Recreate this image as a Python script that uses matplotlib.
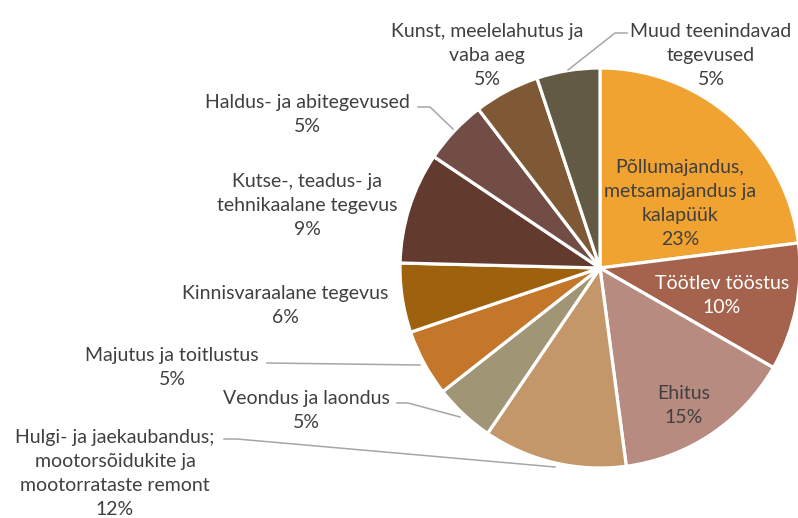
import matplotlib
matplotlib.use("Agg")
import matplotlib.pyplot as plt

# sectors, clockwise from 12 o'clock
sectors = [
    "Põllumajandus,\nmetsamajandus ja\nkalapüük",
    "Töötlev tööstus",
    "Ehitus",
    "Hulgi- ja jaekaubandus;\nmootorsõidukite ja\nmootorrataste remont",
    "Veondus ja laondus",
    "Majutus ja toitlustus",
    "Kinnisvaraalane tegevus",
    "Kutse-, teadus- ja\ntehnikaalane tegevus",
    "Haldus- ja abitegevused",
    "Kunst, meelelahutus ja\nvaba aeg",
    "Muud teenindavad\ntegevused",
]
shares = [23.0, 10.3, 14.6, 11.6, 4.9, 5.4, 5.6, 9.0, 5.2, 5.3, 5.1]
colors = ["#F0A330", "#A5634E", "#B88B80", "#C4976B", "#A09574", "#C4762B",
          "#9E620E", "#623A2E", "#724D45", "#7F5936", "#625A44"]

W, H = 798, 518
fig = plt.figure(figsize=(W / 100, H / 100), dpi=100)
ax = fig.add_axes([0, 0, 1, 1])

def py(y):
    # pixel row from top -> axis y
    return H - y

ax.pie(shares, colors=colors, startangle=90, counterclock=False,
       center=(600, py(268)), radius=200, frame=True,
       wedgeprops=dict(edgecolor="white", linewidth=2.3))
ax.set_xlim(0, W)
ax.set_ylim(0, H)
ax.set_aspect("equal")
ax.axis("off")

txt = "#404040"
fs = 14
# label anchor (center x, top line y) in pixels
label_pos = [
    (680, 165, txt), (722, 283, "white"), (684, 393, txt), (115, 435, txt),
    (306, 398, txt), (172, 355, txt), (285, 293, txt), (307, 180, txt),
    (307, 102, txt), (487, 30, txt), (711, 30, txt),
]
line_h = 25.7
for name, val, (x, y, c) in zip(sectors, shares, label_pos):
    s = name + "\n" + f"{val:.0f}%"
    n = s.count("\n")
    ymid = y + n * line_h / 2
    ax.text(x, py(ymid), s, ha="center", va="center", fontsize=fs,
            family="Lato", color=c, linespacing=1.5)

# leader lines
gray = "#A6A6A6"
leaders = [
    [(627, 33), (615, 33), (568, 70)],
    [(418, 107), (430, 107), (453, 129)],
    [(267, 363), (420, 365)],
    [(397, 403), (408, 403), (460, 417)],
    [(224, 439), (237, 439), (555, 467)],
]
for pts in leaders:
    ax.plot([p[0] for p in pts], [py(p[1]) for p in pts], color=gray, lw=1.1)

fig.savefig("out.png", dpi=100)
